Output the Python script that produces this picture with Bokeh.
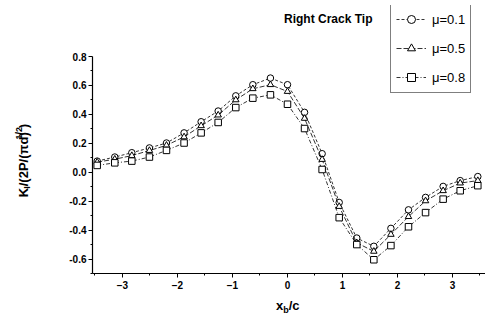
from bokeh.plotting import figure
from bokeh.layouts import row, column
from bokeh.models import (Range1d, FixedTicker, PrintfTickFormatter, Label, Legend, LegendItem)
from bokeh.embed import file_html
from bokeh.resources import INLINE
import math

# ---- data ----
x_over_c = [-3.46, -3.14, -2.83, -2.51, -2.20, -1.88, -1.57, -1.26, -0.94, -0.63, -0.31, 0.00,
            0.31, 0.63, 0.94, 1.26, 1.57, 1.88, 2.20, 2.51, 2.83, 3.14, 3.46]
k_mu01 = [0.077, 0.105, 0.135, 0.168, 0.202, 0.272, 0.349, 0.423, 0.528, 0.605, 0.651, 0.605,
          0.414, 0.128, -0.209, -0.455, -0.512, -0.388, -0.260, -0.174, -0.098, -0.058, -0.030]
k_mu05 = [0.070, 0.090, 0.115, 0.150, 0.186, 0.244, 0.321, 0.395, 0.500, 0.577, 0.605, 0.558,
          0.372, 0.088, -0.237, -0.488, -0.547, -0.430, -0.307, -0.198, -0.128, -0.075, -0.058]
k_mu08 = [0.047, 0.065, 0.077, 0.105, 0.151, 0.202, 0.272, 0.344, 0.447, 0.512, 0.535, 0.470,
          0.302, 0.019, -0.314, -0.500, -0.605, -0.507, -0.377, -0.279, -0.186, -0.128, -0.093]
series_labels = ["\u03bc=0.1", "\u03bc=0.5", "\u03bc=0.8"]
x_ticks = [-3, -2, -1, 0, 1, 2, 3]
x_minor = [-3.5, -2.5, -1.5, -0.5, 0.5, 1.5, 2.5, 3.5]
y_ticks = [-0.6, -0.4, -0.2, 0.0, 0.2, 0.4, 0.6, 0.8]
y_minor = [-0.7, -0.5, -0.3, -0.1, 0.1, 0.3, 0.5, 0.7]

# ---- layout (canvas pixels) ----
W, H = 485, 320
YLAB_W = 40          # strip on the left holding the rotated y label
XLAB_H = 25          # strip at the bottom holding the x label
MAIN_W, MAIN_H = W - YLAB_W, H - XLAB_H
FL, FB, FT = 92, 273, 5   # frame left / bottom / top on the page
X0, X1 = -3.545, 3.6
Y_BOTTOM, Y_AXTOP = -0.7, 0.8
ppu_y = (273 - 56) / (Y_AXTOP - Y_BOTTOM)
Y1 = Y_BOTTOM + (FB - FT) / ppu_y

FONT = "Liberation Sans"

p = figure(width=MAIN_W, height=MAIN_H, output_backend="svg", toolbar_location=None,
           x_range=Range1d(X0, X1), y_range=Range1d(Y_BOTTOM, Y1),
           min_border_left=FL - YLAB_W, min_border_right=0, min_border_top=FT,
           min_border_bottom=MAIN_H - FB)
p.outline_line_color = None
p.grid.visible = False
p.background_fill_color = "white"
p.border_fill_color = "white"

for ax in (p.xaxis[0], p.yaxis[0]):
    ax.axis_line_color = "black"
    ax.axis_line_width = 1.2
    ax.major_tick_in = 0
    ax.major_tick_out = 4
    ax.minor_tick_in = 0
    ax.minor_tick_out = 2
    ax.major_tick_line_color = "black"
    ax.minor_tick_line_color = "black"
    ax.major_label_text_font = FONT
    ax.major_label_text_font_style = "bold"
    ax.major_label_text_font_size = "10px"
    ax.major_label_text_color = "black"

p.xaxis[0].ticker = FixedTicker(ticks=x_ticks, minor_ticks=x_minor)
p.yaxis[0].ticker = FixedTicker(ticks=y_ticks, minor_ticks=y_minor)
p.yaxis[0].formatter = PrintfTickFormatter(format="%.1f")
p.yaxis[0].bounds = (Y_BOTTOM, Y_AXTOP)
p.xaxis[0].major_label_standoff = 3
p.yaxis[0].major_label_standoff = 2

styles = [("circle", "3 2"), ("triangle", "5 2"), ("square", "4 2 1 2")]
items = []
for ys, (mk, dash), lab in zip([k_mu01, k_mu05, k_mu08], styles, series_labels):
    ln = p.line(x_over_c, ys, line_color="black", line_width=0.8, line_dash=dash)
    sc = p.scatter(x_over_c, ys, marker=mk, size=6.5, fill_color="white",
                   line_color="black", line_width=1)
    items.append(LegendItem(label=lab, renderers=[ln, sc]))

legend = Legend(items=items, location=(390 - FL, FB - 93), orientation="vertical",
                label_text_font=FONT, label_text_font_size="13px",
                label_text_color="black",
                glyph_width=30, glyph_height=20, label_height=20, spacing=9,
                padding=5, margin=0, label_standoff=6,
                border_line_color="black", border_line_width=1,
                background_fill_color="white", background_fill_alpha=1)
p.add_layout(legend, "center")

p.add_layout(Label(x=372 - FL, y=FB - 18, x_units="screen", y_units="screen",
                   text="Right Crack Tip", text_font=FONT, text_font_style="bold",
                   text_font_size="12px", text_color="black", text_align="right",
                   text_baseline="middle"))


def strip(w, h):
    f = figure(width=w, height=h, output_backend="svg", toolbar_location=None,
               x_range=Range1d(0, w), y_range=Range1d(h, 0),
               x_axis_location=None, y_axis_location=None,
               min_border_left=0, min_border_right=0, min_border_top=0, min_border_bottom=0)
    f.outline_line_color = None
    f.grid.visible = False
    f.background_fill_color = "white"
    f.border_fill_color = "white"
    return f


def lab(f, text, x, y, size, angle=0.0):
    f.add_layout(Label(x=x, y=y, text=text, text_font=FONT, text_font_style="bold",
                       text_font_size=f"{size}px", text_color="black", text_align="left",
                       text_baseline="alphabetic", angle=angle))


# y axis label: K_I/(2P/(pi d)^(1/2)), rotated, in the left strip
ylab = strip(YLAB_W, MAIN_H)
a = math.pi / 2
y0 = 211
lab(ylab, "K", 23, y0, 13, a)
lab(ylab, "I", 26, y0 - 9.4, 9, a)
lab(ylab, "/(2P/(\u03c0d)", 23, y0 - 12.0, 13, a)
lab(ylab, "1/2", 18, y0 - 63.5, 9, a)
lab(ylab, ")", 23, y0 - 76.0, 13, a)

# x axis label: x_b/c, in the bottom strip
xlab = strip(W, XLAB_H)
lab(xlab, "x", 275.5, 305 - MAIN_H, 13)
lab(xlab, "b", 282.7, 309 - MAIN_H, 9)
lab(xlab, "/c", 288.2, 305 - MAIN_H, 13)

layout = column(row(ylab, p, spacing=0), xlab, spacing=0)
open("out.html", "w").write(file_html(layout, INLINE))
